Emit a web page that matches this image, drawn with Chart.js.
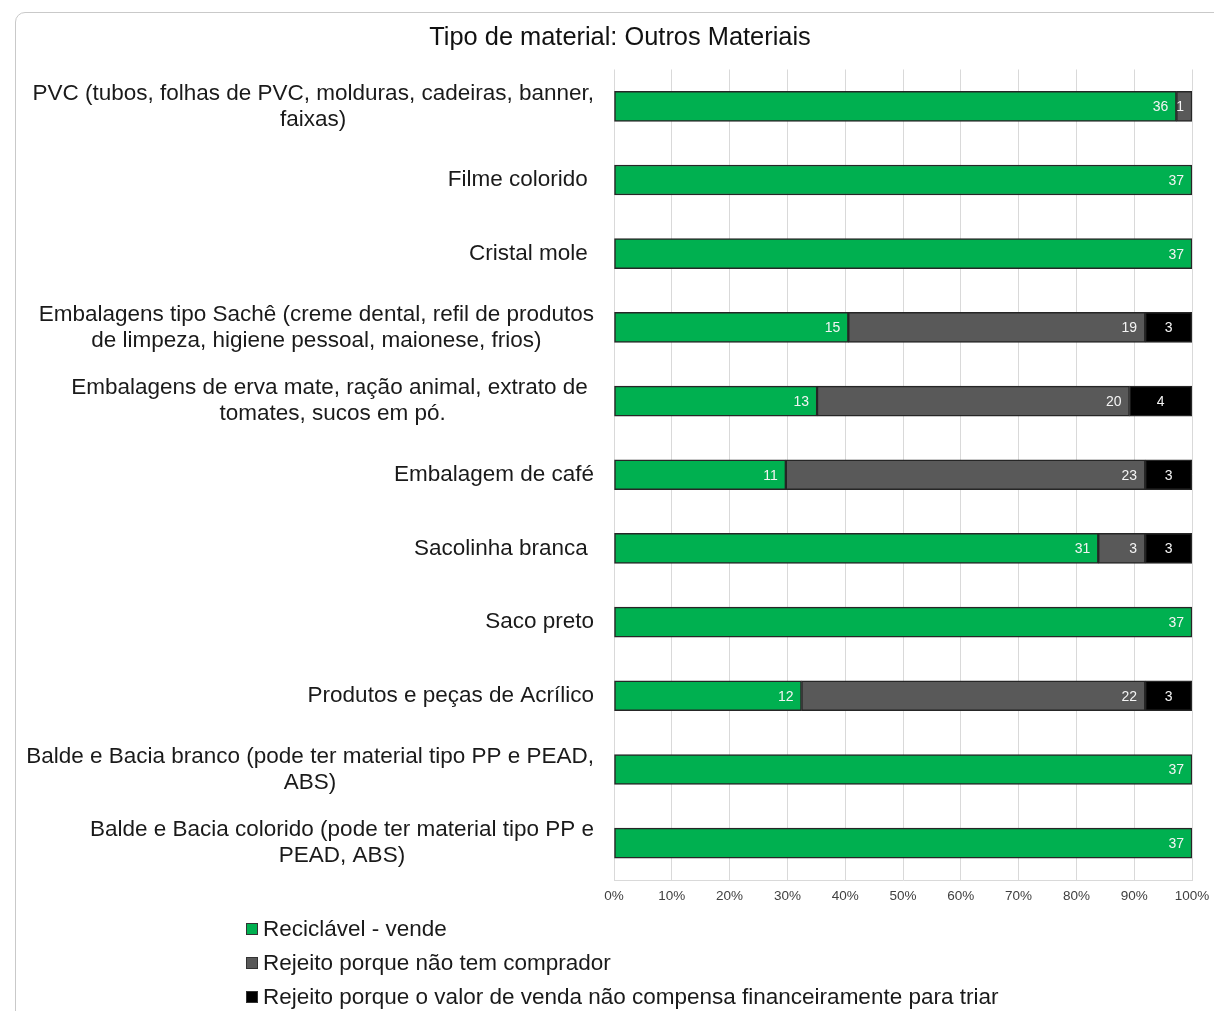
<!DOCTYPE html>
<html>
<head>
<meta charset="utf-8">
<script src="https://cdn.jsdelivr.net/npm/chart.js@4.4.1/dist/chart.umd.min.js"></script>
<style>
  html, body { margin: 0; padding: 0; background: #fff; overflow: hidden; }
  #page { position: relative; width: 1214px; height: 1011px; overflow: hidden; }
  #frame { position: absolute; left: 15px; top: 12px; width: 1260px; height: 1080px;
           border: 1px solid #c9c9c9; border-radius: 10px; box-sizing: border-box; }
  #wrap { position: absolute; left: 0; top: 0; width: 1214px; height: 1011px; }
  #legend { position: absolute; left: 246px; top: 912px; font-family: "Liberation Sans", Arial, sans-serif;
            font-size: 22.5px; color: #1a1a1a; }
  .li { height: 34px; line-height: 26px; display: flex; align-items: center; white-space: nowrap; }
  .sw { width: 10px; height: 10px; border: 1px solid #333; margin-right: 5px; flex: none; }
</style>
</head>
<body>
<div id="page">
  <div id="frame"></div>
  <div id="wrap"><canvas id="c"></canvas></div>
  <div id="legend"></div>
</div>
<script>
const titleText = "Tipo de material: Outros Materiais";
const categories = [
  ["PVC (tubos, folhas de PVC, molduras, cadeiras, banner,", "faixas)"],
  ["Filme colorido "],
  ["Cristal mole "],
  ["Embalagens tipo Sachê (creme dental, refil de produtos", "de limpeza, higiene pessoal, maionese, frios)"],
  ["Embalagens de erva mate, ração animal, extrato de ", "tomates, sucos em pó."],
  ["Embalagem de café"],
  ["Sacolinha branca "],
  ["Saco preto"],
  ["Produtos e peças de Acrílico"],
  ["Balde e Bacia branco (pode ter material tipo PP e PEAD,", "ABS)"],
  ["Balde e Bacia colorido (pode ter material tipo PP e", "PEAD, ABS)"]
];
const seriesNames = [
  "Reciclável - vende",
  "Rejeito porque não tem comprador",
  "Rejeito porque o valor de venda não compensa financeiramente para triar"
];
const recyclable = [36, 37, 37, 15, 13, 11, 31, 37, 12, 37, 37];
const noBuyer    = [1, 0, 0, 19, 20, 23, 3, 0, 22, 0, 0];
const notWorth   = [0, 0, 0, 3, 4, 3, 3, 0, 3, 0, 0];
const xTickValues = [0, 10, 20, 30, 40, 50, 60, 70, 80, 90, 100];

const colors = ["#00b050", "#595959", "#000000"];
const labelAlign = ["end", "end", "center"];
const rawSeries = [recyclable, noBuyer, notWorth];
const totals = recyclable.map((v, i) => v + noBuyer[i] + notWorth[i]);
const toPct = arr => arr.map((v, i) => v ? v / totals[i] * 100 : null);

const FONT = '"Liberation Sans", Arial, sans-serif';

const dataLabels = {
  id: 'dataLabels',
  afterDatasetsDraw(chart) {
    const ctx = chart.ctx;
    ctx.save();
    ctx.font = '14px ' + FONT;
    ctx.fillStyle = '#f4f4f4';
    ctx.textBaseline = 'middle';
    chart.data.datasets.forEach((ds, i) => {
      const meta = chart.getDatasetMeta(i);
      meta.data.forEach((bar, j) => {
        const raw = rawSeries[i][j];
        if (!raw) return;
        const p = bar.getProps(['x', 'y', 'base'], true);
        if (labelAlign[i] === 'center') {
          ctx.textAlign = 'center';
          ctx.fillText(String(raw), (p.x + p.base) / 2, p.y + 1);
        } else {
          ctx.textAlign = 'right';
          ctx.fillText(String(raw), p.x - 8, p.y + 1);
        }
      });
    });
    ctx.restore();
  }
};

const catLabels = {
  id: 'catLabels',
  afterDraw(chart) {
    const ctx = chart.ctx;
    const ys = chart.scales.y;
    const right = chart.chartArea.left - 20;
    ctx.save();
    ctx.font = '22.5px ' + FONT;
    ctx.fillStyle = '#1a1a1a';
    ctx.textBaseline = 'middle';
    ctx.textAlign = 'center';
    categories.forEach((lines, j) => {
      const y = ys.getPixelForValue(j);
      const maxW = Math.max(...lines.map(l => ctx.measureText(l).width));
      const cx = right - maxW / 2;
      const n = lines.length;
      lines.forEach((l, k) => {
        ctx.fillText(l, cx, y + (k - (n - 1) / 2) * 26);
      });
    });
    ctx.restore();
  }
};

new Chart(document.getElementById('c'), {
  type: 'bar',
  data: {
    labels: categories,
    datasets: rawSeries.map((arr, i) => ({
      label: seriesNames[i],
      data: toPct(arr),
      backgroundColor: colors[i],
      borderColor: '#262626',
      borderWidth: 1.5,
      borderSkipped: false,
      barThickness: 30
    }))
  },
  options: {
    indexAxis: 'y',
    responsive: true,
    maintainAspectRatio: false,
    animation: false,
    layout: { padding: { left: 48, right: 22, top: 0, bottom: 107 } },
    plugins: {
      legend: { display: false },
      tooltip: { enabled: false },
      title: {
        display: true,
        text: titleText,
        color: '#111',
        font: { family: FONT, size: 25.4, weight: 'normal' },
        padding: { top: 23, bottom: 16 }
      }
    },
    scales: {
      x: {
        stacked: true,
        min: 0,
        max: 100,
        afterBuildTicks(scale) { scale.ticks = xTickValues.map(v => ({ value: v })); },
        afterFit(scale) { scale.height = 24; scale.paddingRight = 0; scale.paddingLeft = 0; },
        ticks: {
          callback: v => v + '%',
          color: '#404040',
          font: { family: FONT, size: 13.5 },
          padding: 8,
          maxRotation: 0,
          autoSkip: false
        },
        grid: { color: '#d9d9d9', lineWidth: 1, drawTicks: false },
        border: { color: '#d9d9d9', display: true }
      },
      y: {
        stacked: true,
        afterFit(scale) { scale.width = 566; },
        ticks: { display: false },
        grid: { display: false, drawTicks: false },
        border: { display: false }
      }
    }
  },
  plugins: [dataLabels, catLabels]
});

const legendEl = document.getElementById('legend');
seriesNames.forEach((name, i) => {
  const row = document.createElement('div');
  row.className = 'li';
  const sw = document.createElement('span');
  sw.className = 'sw';
  sw.style.background = colors[i];
  const t = document.createElement('span');
  t.textContent = name;
  row.appendChild(sw);
  row.appendChild(t);
  legendEl.appendChild(row);
});
</script>
</body>
</html>
